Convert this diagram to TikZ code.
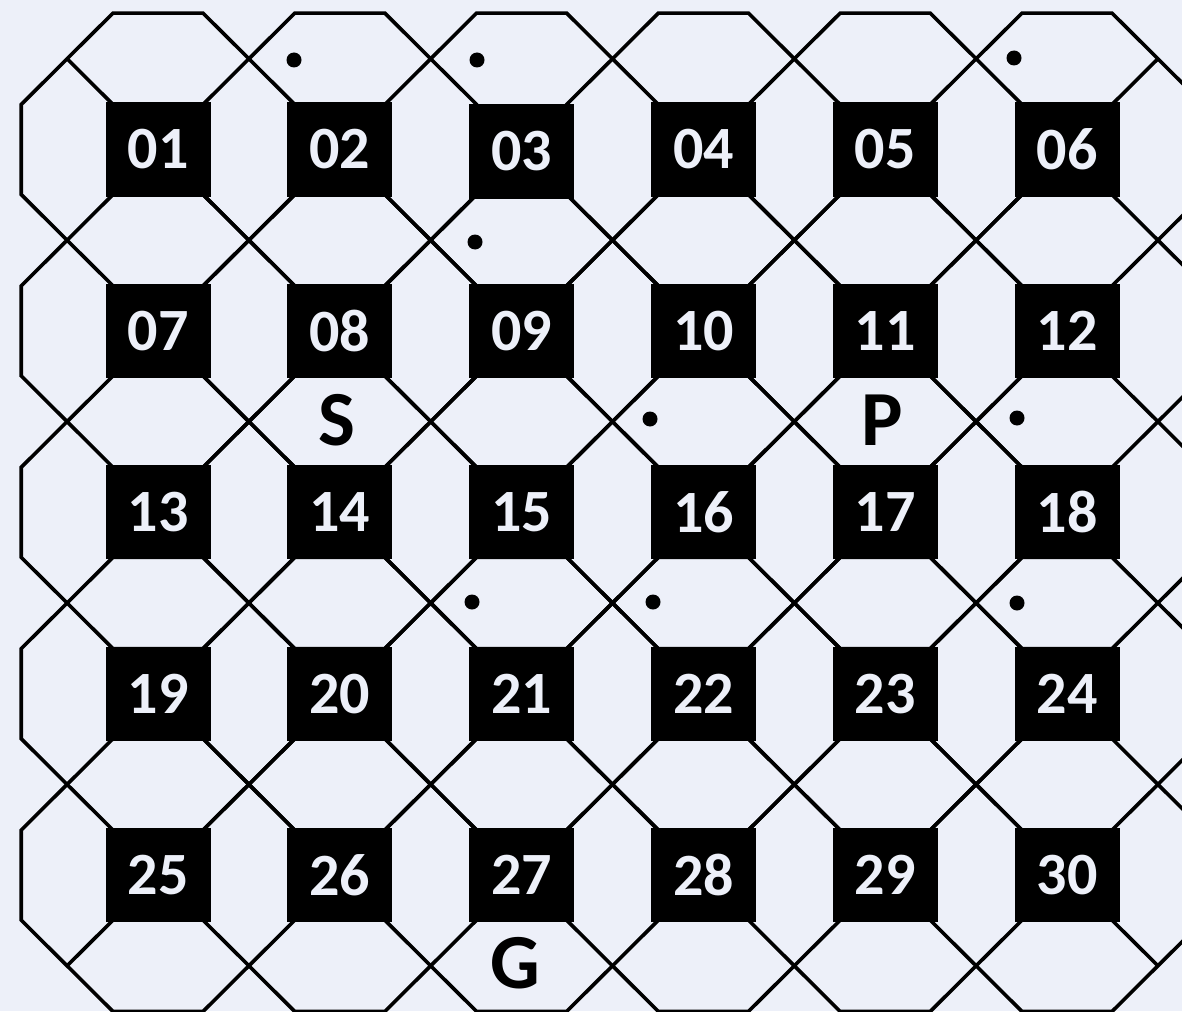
\documentclass[tikz,border=0pt]{standalone}
\usepackage{fontspec}
\setmainfont{Carlito}
\definecolor{bg}{RGB}{237,240,249}
\begin{document}
\begin{tikzpicture}[x=1pt,y=-1pt,line width=3.6pt,line join=miter,
  cellbox/.style={fill=black,minimum width=105pt,minimum height=94pt,inner sep=0pt,
    text=bg,font=\fontsize{60}{60}\selectfont\bfseries},
  spot/.style={circle,fill=black,minimum size=15pt,inner sep=0pt},
  letter/.style={inner sep=0pt,text=black,font=\fontsize{78}{78}\selectfont\bfseries}]
\useasboundingbox (0,0) rectangle (1182,1011);
\fill[bg] (0,0) rectangle (1182,1011);
\begin{scope}
\clip (0,0) rectangle (1182,1011);
% overlapping octagons, one per cell
\foreach \r in {1,...,5}{
  \foreach \c in {1,...,6}{
    \pgfmathsetmacro\cx{158+181.8*(\c-1)}
    \pgfmathsetmacro\cy{149.5+181.4*(\r-1)}
    \draw (\cx-45,\cy-136.4) -- (\cx+45,\cy-136.4) -- (\cx+136.8,\cy-45)
      -- (\cx+136.8,\cy+45) -- (\cx+45,\cy+136.4) -- (\cx-45,\cy+136.4)
      -- (\cx-136.8,\cy+45) -- (\cx-136.8,\cy-45) -- cycle;
  }
}
% black squares with numbers
\foreach \r in {1,...,5}{
  \foreach \c in {1,...,6}{
    \pgfmathsetmacro\cx{158+181.8*(\c-1)}
    \pgfmathsetmacro\cy{149.5+181.4*(\r-1)+(\r==1)*(\c==3)*2}
    \pgfmathtruncatemacro\n{(\r-1)*6+\c}
    \node[cellbox] (n\n) at (\cx,\cy) {\ifnum\n<10 0\fi\n};
  }
}
% corner stubs
\draw ([shift={(-45,-45)}]n1.center) -- ([shift={(-90.9,-90.7)}]n1.center);
\draw ([shift={(45,-45)}]n6.center) -- ([shift={(90.9,-90.7)}]n6.center);
\draw ([shift={(-45,45)}]n25.center) -- ([shift={(-90.9,90.7)}]n25.center);
\draw ([shift={(45,45)}]n30.center) -- ([shift={(90.9,90.7)}]n30.center);
\end{scope}
% dots
\node[spot] (d02) at (294,60) {};
\node[spot] (d03) at (477,60) {};
\node[spot] (d06) at (1014,58) {};
\node[spot] (d09) at (475,242) {};
\node[spot] (d16) at (650,419) {};
\node[spot] (d18) at (1017,418) {};
\node[spot] (d21) at (472,602) {};
\node[spot] (d22) at (653,602) {};
\node[spot] (d24) at (1017,603) {};
% letters
\node[letter] (S) at (337,420) {S};
\node[letter] (P) at (882,420) {P};
\node[letter] (G) at (515,963) {G};
\end{tikzpicture}
\end{document}
